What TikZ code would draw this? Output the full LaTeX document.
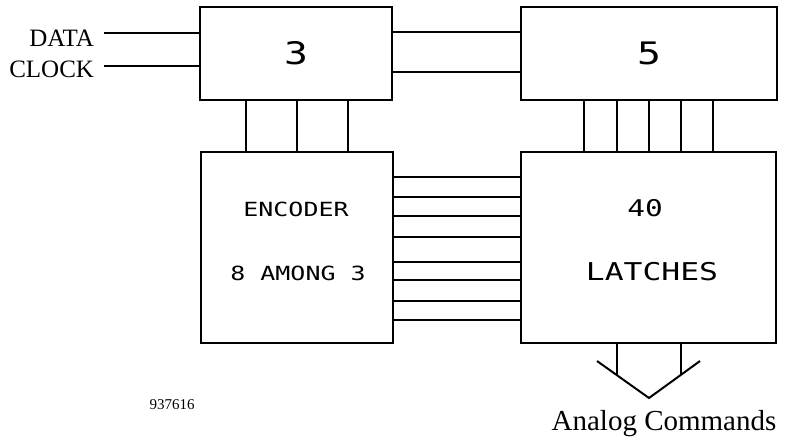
\documentclass[tikz,border=0pt]{standalone}
\usepackage{fontspec}
\setmainfont{Liberation Serif}
\newfontfamily\plotfont[FakeStretch=1.28]{DejaVu Sans Mono}
\begin{document}
\begin{tikzpicture}[x=1pt,y=-1pt,line width=2pt,
        block/.style={draw,rectangle,inner sep=0pt,outer sep=0pt},
        plottext/.style={font=\plotfont\fontsize{#1}{#1}\selectfont}]
    \useasboundingbox (0,0) rectangle (786,440);
    % blocks
    \node[block,minimum width=192pt,minimum height=93pt,plottext=31] (reg3) at (296,53.5) {3};
    \node[block,minimum width=256pt,minimum height=93pt,plottext=31] (reg5) at (649,53.5) {5};
    \node[block,minimum width=192pt,minimum height=191pt] (enc) at (297,247.5) {};
    \node[block,minimum width=255pt,minimum height=191pt] (lat) at (648.5,247.5) {};
    \node[plottext=19.5] (encname) at (296,209) {ENCODER};
    \node[plottext=19.5] (encsub) at (298,273) {8 AMONG 3};
    \node[plottext=23] (latnum) at (645,208) {40};
    \node[plottext=24.5] (latname) at (652,272) {LATCHES};
    % inputs
    \node[font=\fontsize{25}{25}\selectfont,anchor=base east,inner sep=0pt] (data) at (95,46) {DATA};
    \node[font=\fontsize{25}{25}\selectfont,anchor=base east,inner sep=0pt] (clock) at (95,77) {CLOCK};
    \coordinate (datain) at (104,33);
    \coordinate (clockin) at (104,66);
    \draw (datain) -- (datain -| reg3.west);
    \draw (clockin) -- (clockin -| reg3.west);
    % buses
    \foreach \y in {32,72} \draw (reg3.east |- 0,\y) -- (reg5.west |- 0,\y);
    \foreach \x in {246,297,348} \draw (\x,0 |- reg3.south) -- (\x,0 |- enc.north);
    \foreach \x in {584,617,649,681,713} \draw (\x,0 |- reg5.south) -- (\x,0 |- lat.north);
    \foreach \y in {177,197,216,237,262,280,301,320} \draw (enc.east |- 0,\y) -- (lat.west |- 0,\y);
    % outputs
    \coordinate (vleft) at (597,361);
    \coordinate (vtip) at (649,398);
    \coordinate (vright) at (700,361);
    \draw (vleft) -- (vtip) -- (vright);
    \foreach \x in {617,681} \draw (\x,0 |- lat.south) -- (\x,375);
    \node[font=\fontsize{29}{29}\selectfont,anchor=base] (analog) at (664,430) {Analog Commands};
    \node[font=\fontsize{15}{15}\selectfont,anchor=base] (drawno) at (172,409) {937616};
\end{tikzpicture}
\end{document}
